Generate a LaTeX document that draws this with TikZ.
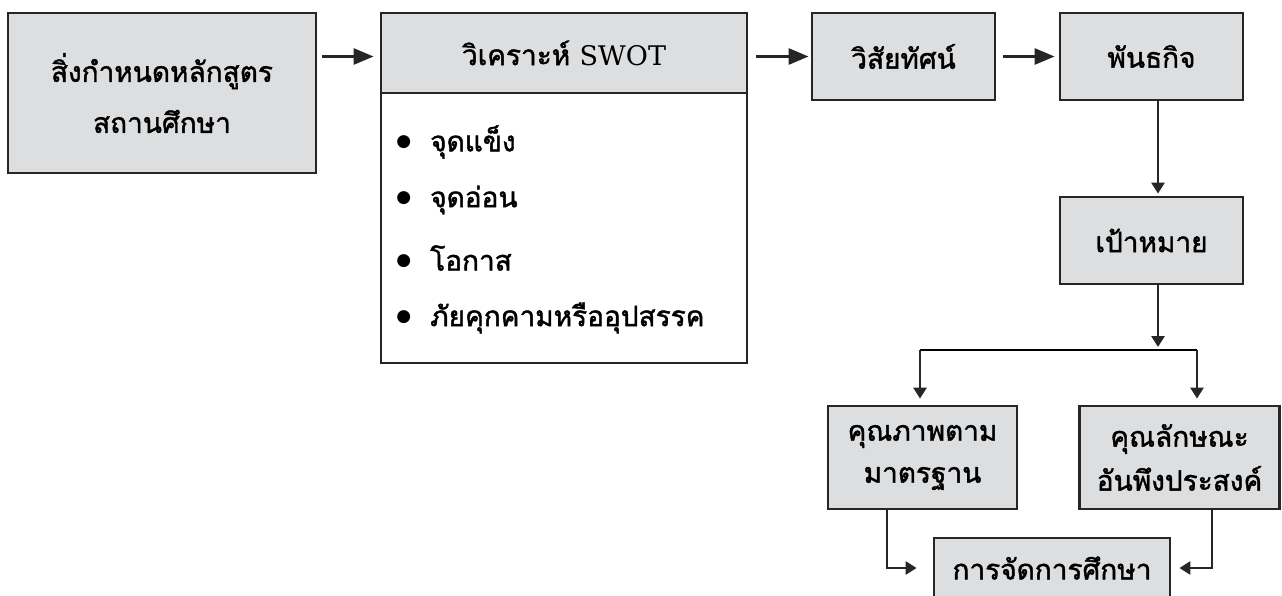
\documentclass[tikz,border=0pt]{standalone}
\usepackage{fontspec}
\newfontfamily\thai[Script=Thai, FakeBold=1.5]{Loma}
\newfontfamily\latin{DejaVu Serif}
\newfontfamily\symbols{DejaVu Sans}
\usetikzlibrary{arrows.meta}
\definecolor{boxgray}{RGB}{221,222,224}
\newcommand{\dotmark}{\raisebox{5pt}{\symbols\fontsize{17}{17}\selectfont ●}\hspace{19pt}}
\begin{document}
\begin{tikzpicture}[x=1pt, y=-1pt, line width=2.8pt,
	box/.style={draw=black!85, fill=boxgray, inner sep=0pt, align=center, font=\thai\fontsize{28}{34}\selectfont},
	item/.style={anchor=west, inner sep=0pt, font=\thai\fontsize{28}{34}\selectfont},
	bigarrow/.style={draw=black!85, -{Triangle[length=20pt,width=16pt]}},
	smallarrow/.style={draw=black!85, -{Triangle[length=11pt,width=13pt]}}]

	\useasboundingbox (0,0) rectangle (1282,595);

	\node[box, minimum width=308pt, minimum height=160pt, font=\thai\fontsize{28}{51}\selectfont] (course) at (162,93) {สิ่งกำหนดหลักสูตร\\สถานศึกษา};

	\node[box, fill=white, minimum width=366pt, minimum height=270pt] (swotbody) at (564,228) {};
	\node[box, minimum width=366pt, minimum height=80pt] (swothead) at (564,53) {วิเคราะห์ {\latin\fontsize{27}{34}\selectfont SWOT}};
	\node[item] (strength) at (395,142) {\dotmark จุดแข็ง};
	\node[item] (weakness) at (395,200) {\dotmark จุดอ่อน};
	\node[item] (chance) at (395,258) {\dotmark โอกาส};
	\node[item] (threat) at (395,318) {\dotmark ภัยคุกคามหรืออุปสรรค};

	\node[box, minimum width=183pt, minimum height=87pt] (vision) at (903.5,56.5) {วิสัยทัศน์};
	\node[box, minimum width=183pt, minimum height=87pt] (mission) at (1151.5,56.5) {พันธกิจ};
	\node[box, minimum width=183pt, minimum height=87pt] (goal) at (1151.5,240.5) {เป้าหมาย};

	\node[box, minimum width=189pt, minimum height=103pt, font=\thai\fontsize{28}{42}\selectfont] (quality) at (922.5,457.5) {คุณภาพตาม\\มาตรฐาน};
	\node[box, minimum width=200pt, minimum height=103pt, font=\thai\fontsize{28}{44}\selectfont] (trait) at (1179.5,457.5) {คุณลักษณะ\\อันพึงประสงค์};
	\node[box, minimum width=236pt, minimum height=60pt] (manage) at (1052,568) {การจัดการศึกษา};

	\coordinate (fork) at (1158,350);
	\coordinate (forkleft) at (920,350);
	\coordinate (forkright) at (1197,350);

	\draw[bigarrow, shorten <=5pt, shorten >=6pt] (course.east |- vision) -- (swothead.west |- vision);
	\draw[bigarrow, shorten <=8pt, shorten >=2pt] (swothead.east |- vision) -- (vision);
	\draw[bigarrow, shorten <=7pt, shorten >=4pt] (vision) -- (mission);
	\draw[smallarrow, shorten >=2pt] (fork |- mission.south) -- (fork |- goal.north);
	\draw[smallarrow, shorten >=3pt] (fork |- goal.south) -- (fork);
	\draw (forkleft) -- (forkright);
	\draw[smallarrow, shorten >=6pt] (forkleft) -- (forkleft |- quality.north);
	\draw[smallarrow, shorten >=6pt] (forkright) -- (forkright |- trait.north);
	\draw[smallarrow, shorten >=16pt] (quality.south -| 887,0) |- (manage.west);
	\draw[smallarrow, shorten >=8pt] (trait.south -| 1212,0) |- (manage.east);

\end{tikzpicture}
\end{document}
